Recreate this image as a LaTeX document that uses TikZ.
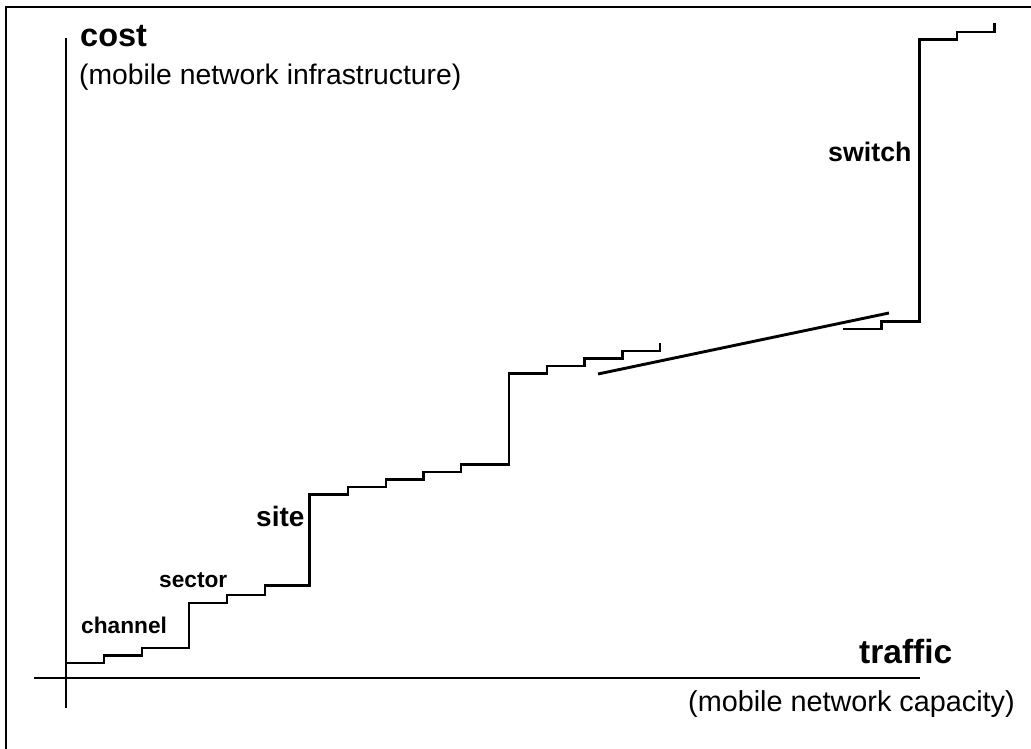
\documentclass[tikz,border=0pt]{standalone}
\usepackage{fontspec}
\setmainfont{Liberation Sans}

\begin{document}
\begin{tikzpicture}[x=1pt,y=-1pt,
    stairline/.style={line width=2.9pt, line join=miter},
    axisline/.style={line width=2.5pt},
    lab/.style={anchor=base west, inner sep=0pt}]
\useasboundingbox (0,0) rectangle (1031,749);
\draw[line width=2pt] (6,749) -- (6,7) -- (1031,7);

% axes
\coordinate (ytop) at (66,38);
\coordinate (ybot) at (66,708);
\coordinate (xleft) at (34,678);
\coordinate (xright) at (920,678);
\draw[axisline] (ytop) -- (ybot);
\draw[axisline] (xleft) -- (xright);

\node[lab, font=\fontsize{32.5}{36}\selectfont\bfseries] (cost) at (80,47) {cost};
\node[lab, font=\fontsize{28.3}{32}\selectfont] (infra) at (79,85) {(mobile network infrastructure)};
\node[lab, font=\fontsize{33.5}{36}\selectfont\bfseries] (traffic) at (859,663) {traffic};
\node[lab, font=\fontsize{28.8}{32}\selectfont] (capacity) at (688,711) {(mobile network capacity)};

\node[lab, font=\fontsize{22.7}{26}\selectfont\bfseries] (channel) at (81,633) {channel};
\node[lab, font=\fontsize{22.7}{26}\selectfont\bfseries] (sector) at (159,587) {sector};
\node[lab, font=\fontsize{28}{32}\selectfont\bfseries] (site) at (256,526) {site};
\node[lab, font=\fontsize{26.8}{30}\selectfont\bfseries] (switch) at (828,162) {switch};

% steps
\draw[stairline] (66,663) -| (104,655.5) -| (142,648) -| (189,603) -| (227,595)
    -| (265,585.5) -| (309.5,494.5) -| (348,487) -| (386,479.5) -| (423.5,472)
    -| (461,464.5) -| (509,373.5) -| (547,366) -| (584.5,358.5) -| (622.5,351)
    -| (660,342.5);
\draw[stairline] (598,374) -- (889,313);
\draw[stairline] (843,329) -| (881.5,321.5) -| (919.5,39.5) -| (957,32) -| (994.5,23.5);
\end{tikzpicture}
\end{document}
